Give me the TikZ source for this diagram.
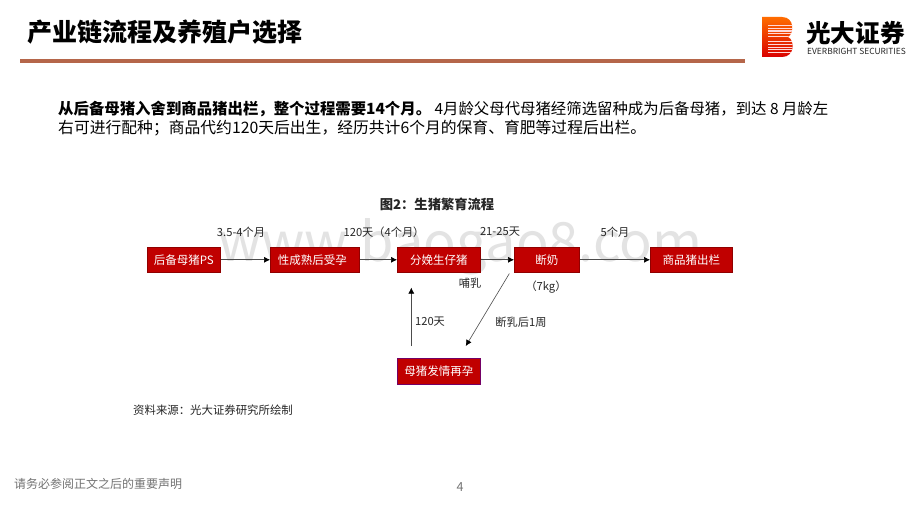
\documentclass[tikz,border=0pt]{standalone}
\usepackage{fontspec}
\setmainfont{Noto Sans CJK SC}
\usetikzlibrary{arrows.meta,shadings}
\definecolor{boxred}{HTML}{C00000}
\definecolor{rulecol}{HTML}{B5664A}
\definecolor{txt}{HTML}{262626}
\tikzset{
  x=1pt,y=-1pt,
  flowbox/.style={draw=boxred!75!black,line width=0.6pt,fill=boxred,text=white,font=\fontsize{11.5}{11.5}\selectfont,inner sep=0pt,minimum height=25pt,anchor=north west},
  lbl/.style={font=\fontsize{11.2}{11.2}\selectfont,text=txt,inner sep=0pt},
  flow/.style={draw=black!70,line width=0.6pt,-{Latex[length=6pt,width=6pt,black]}},
  body/.style={text=black,inner sep=0pt,anchor=west}
}
\begin{document}
\begin{tikzpicture}
\useasboundingbox (0,0) rectangle (920,518);
\fill[white] (0,0) rectangle (920,518);
% watermark
\node[inner sep=0pt,text=black!11,font=\fontsize{54}{54}\selectfont] (wm) at (460,247) {www.baogao8.com};
% header
\node[inner sep=0pt,anchor=west,font=\bfseries\fontsize{25}{25}\selectfont,text=black] (title) at (27,32) {产业链流程及养殖户选择};
\coordinate (ruleL) at (20,61);
\coordinate (ruleR) at (745,61);
\draw[rulecol,line width=3.2pt] (ruleL) -- (ruleR);
% logo
\begin{scope}
\path[clip] (762,17) -- (782,17) .. controls (795,17) and (794,34) .. (788,37) .. controls (795,40) and (795,57) .. (782,57) -- (762,57) -- cycle;
\path[top color=orange!85!red,bottom color=red!85!black] (762,17) rectangle (795,57);
\foreach \yy in {25,27.7,30.4,33.1,35.8,41.2,43.9,46.6,49.3,52} {\fill[white!85!red] (768,\yy) rectangle (796,\yy+1.2);}
\end{scope}
\node[inner sep=0pt,anchor=west,font=\bfseries\fontsize{24.6}{24.6}\selectfont,text=black] (lg1) at (806,33) {光大证券};
\node[inner sep=0pt,anchor=west,font=\fontsize{8.4}{8.4}\selectfont,text=black!85] (lg2) at (807,51) {EVERBRIGHT SECURITIES};
% body
\node[body,font=\fontsize{15.4}{19}\selectfont] (b1) at (58,109) {\textbf{从后备母猪入舍到商品猪出栏，整个过程需要14个月。} 4月龄父母代母猪经筛选留种成为后备母猪，到达 8 月龄左};
\node[body,font=\fontsize{15.8}{19}\selectfont] (b2) at (58,128) {右可进行配种；商品代约120天后出生，经历共计6个月的保育、育肥等过程后出栏。};
% figure title
\node[inner sep=0pt,font=\bfseries\fontsize{13.3}{13.3}\selectfont,text=txt] (ft) at (437,204) {图2：生猪繁育流程};
% boxes
\node[flowbox,minimum width=73pt] (n1) at (147,247) {后备母猪PS};
\node[flowbox,minimum width=89pt] (n2) at (270,247) {\kern-2.5pt 性成熟后受孕\kern2.5pt};
\node[flowbox,minimum width=83pt] (n3) at (397,247) {分娩生仔猪};
\node[flowbox,minimum width=65pt] (n4) at (514,247) {断奶};
\node[flowbox,minimum width=82pt] (n5) at (650,247) {商品猪出栏};
\node[flowbox,minimum width=83pt,minimum height=26pt,draw=boxred!60!blue] (n6) at (397,358) {母猪发情再孕};
% connectors
\draw[flow] (n1.east) -- (n2.west);
\draw[flow] (n2.east) -- (n3.west);
\draw[flow] (n3.east) -- (n4.west);
\draw[flow] (n4.east) -- (n5.west);
\coordinate (upS) at ([xshift=-27.5pt,yshift=12pt]n6.north);
\coordinate (upE) at ([xshift=-27.5pt,yshift=-15pt]n3.south);
\draw[flow] (upS) -- (upE);
\coordinate (dgS) at ([xshift=-37.5pt,yshift=-1pt]n4.south);
\coordinate (dgE) at ([xshift=27pt,yshift=12pt]n6.north);
\draw[flow] (dgS) -- (dgE);
% labels
\node[lbl] (l1) at (241,232) {3.5-4个月};
\node[lbl] (l2) at (384,232) {120天（4个月）};
\node[lbl] (l3) at (500,232) {21-25天};
\node[lbl] (l4) at (615,232) {5个月};
\node[lbl] (l5) at (470,283) {哺乳};
\node[lbl] (l6) at (546,287) {（7kg）};
\node[lbl] (l7) at (430,322) {120天};
\node[lbl] (l8) at (521,322) {断乳后1周};
\node[inner sep=0pt,anchor=west,font=\fontsize{11.4}{11.4}\selectfont,text=txt] (src) at (133,410) {资料来源：光大证券研究所绘制};
% footer
\node[inner sep=0pt,anchor=west,font=\fontsize{12}{12}\selectfont,text=black!55] (ft1) at (14,484) {请务必参阅正文之后的重要声明};
\node[inner sep=0pt,font=\fontsize{12.5}{12.5}\selectfont,text=black!55] (pg) at (460,487) {4};
\end{tikzpicture}
\end{document}
